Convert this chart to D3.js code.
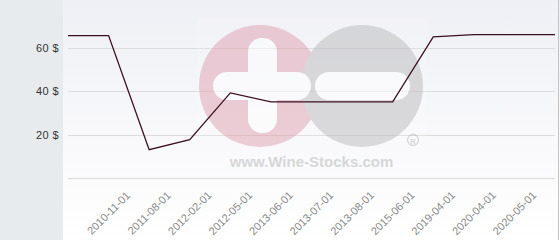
<!DOCTYPE html>
<html>
<head>
<meta charset="utf-8">
<script src="https://cdn.jsdelivr.net/npm/d3@7"></script>
<style>
  body { margin: 0; background: #fff; }
  svg { display: block; font-family: Arial, "Liberation Sans", sans-serif; }
</style>
</head>
<body>
<svg id="chart"></svg>
<script>
// data
const dates = ['2010-11-01', '2011-08-01', '2012-02-01', '2012-05-01', '2013-06-01', '2013-07-01',
  '2013-08-01', '2015-06-01', '2019-04-01', '2020-04-01', '2020-05-01'];
const prices = [65.7, 13.1, 17.7, 39.3, 35.1, 35.1, 35.1, 35.1, 65.1, 66.2, 66.2];
const yTicks = [20, 40, 60];

const width = 560, height = 240;
const plot = {left: 68, right: 555, top: 0, bottom: 178};

const svg = d3.select('#chart')
    .attr('width', width)
    .attr('height', height);

// background panels
const defs = svg.append('defs');
const grad = defs.append('linearGradient')
    .attr('id', 'bg')
    .attr('x1', 0).attr('y1', 0).attr('x2', 0).attr('y2', 1);
grad.append('stop').attr('offset', '0%').attr('stop-color', '#eff0f5');
grad.append('stop').attr('offset', '100%').attr('stop-color', '#ffffff');

svg.append('rect')
    .attr('width', width).attr('height', height)
    .attr('fill', 'url(#bg)');
svg.append('rect')
    .attr('width', 63).attr('height', height)
    .attr('fill', '#e7ebee');
svg.append('line')
    .attr('x1', 558.5).attr('x2', 558.5)
    .attr('y1', 0).attr('y2', height)
    .attr('stroke', '#c4c4c4');

// scales
const xScale = d3.scalePoint()
    .domain(dates)
    .range([plot.left, plot.right])
    .padding(1);

const yScale = d3.scaleLinear()
    .domain([0, 60 * 178 / 130])
    .range([plot.bottom, plot.top]);

// grid
svg.append('g')
    .selectAll('line')
    .data([0].concat(yTicks))
  .join('line')
    .attr('x1', plot.left).attr('x2', plot.right)
    .attr('y1', d => Math.round(yScale(d)) + 0.5)
    .attr('y2', d => Math.round(yScale(d)) + 0.5)
    .attr('stroke', '#dcdcdc');

// y labels
svg.append('g')
    .selectAll('text')
    .data(yTicks)
  .join('text')
    .attr('x', 59)
    .attr('y', d => yScale(d))
    .attr('dy', '0.35em')
    .attr('text-anchor', 'end')
    .attr('font-size', 11)
    .attr('letter-spacing', 0.4)
    .attr('fill', '#333')
    .text(d => d + ' $');

// x labels, centred on the tick and slanted
svg.append('g')
    .selectAll('text')
    .data(dates)
  .join('text')
    .attr('transform', d => `translate(${xScale(d)},213) rotate(-45)`)
    .attr('dy', '0.35em')
    .attr('text-anchor', 'middle')
    .attr('font-size', 11)
    .attr('fill', '#8a8a8a')
    .text(d => d);

// watermark
const wm = svg.append('g').attr('opacity', 0.5);
wm.append('rect')
    .attr('x', 197).attr('y', 18).attr('width', 230).attr('height', 158)
    .attr('fill', '#fff').attr('opacity', 0.25);
wm.append('circle').attr('cx', 260).attr('cy', 86).attr('r', 61).attr('fill', '#e0a0b0');
wm.append('circle').attr('cx', 362).attr('cy', 86).attr('r', 61).attr('fill', '#bbbbbd');
wm.append('rect').attr('x', 248).attr('y', 38).attr('width', 29).attr('height', 95).attr('rx', 14).attr('fill', '#fff');
wm.append('rect').attr('x', 213).attr('y', 72).attr('width', 98).attr('height', 28).attr('rx', 14).attr('fill', '#fff');
wm.append('rect').attr('x', 315).attr('y', 72).attr('width', 95).attr('height', 28).attr('rx', 14).attr('fill', '#fff');
wm.append('circle').attr('cx', 413).attr('cy', 140).attr('r', 5.5)
    .attr('fill', 'none').attr('stroke', '#b4b4b4').attr('stroke-width', 1.3);
wm.append('text')
    .attr('x', 413).attr('y', 143.5)
    .attr('text-anchor', 'middle')
    .attr('font-size', 8).attr('font-weight', 'bold')
    .attr('fill', '#b4b4b4')
    .text('R');
wm.append('text')
    .attr('x', 311.5).attr('y', 167)
    .attr('text-anchor', 'middle')
    .attr('font-size', 15).attr('font-weight', 'bold')
    .attr('fill', '#b4b4b4')
    .text('www.Wine-Stocks.com');

// price line, carried flat to both plot edges
const points = dates.map((d, i) => [xScale(d), yScale(prices[i])]);
points.unshift([plot.left, yScale(prices[0])]);
points.push([plot.right, yScale(prices[prices.length - 1])]);

svg.append('path')
    .datum(points)
    .attr('fill', 'none')
    .attr('stroke', '#3a1020')
    .attr('stroke-width', 1.3)
    .attr('d', d3.line());
</script>
</body>
</html>
